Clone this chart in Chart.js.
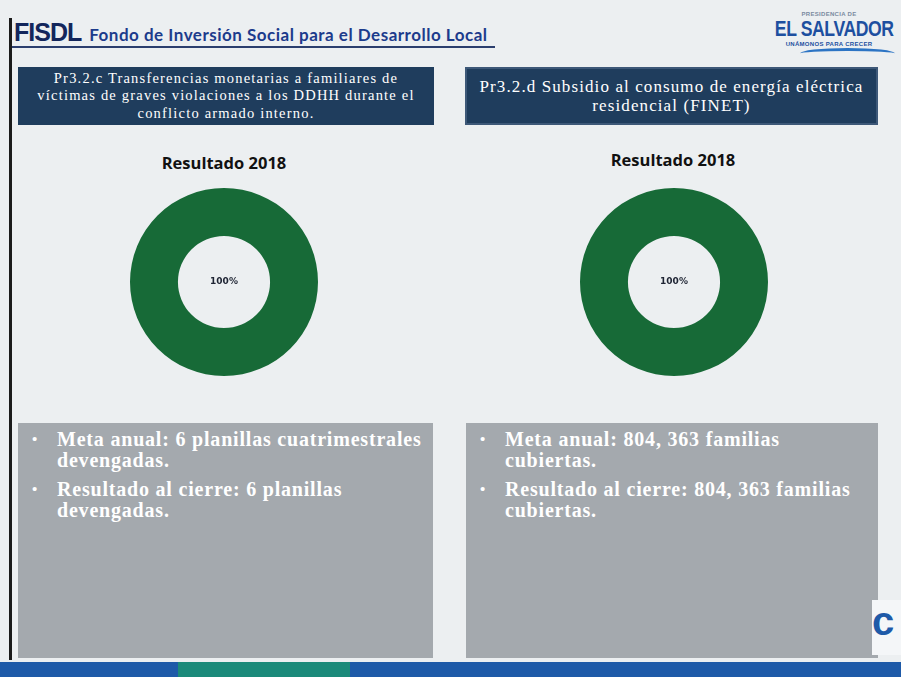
<!DOCTYPE html>
<html>
<head>
<meta charset="utf-8">
<script src="https://cdn.jsdelivr.net/npm/chart.js@4.4.0/dist/chart.umd.min.js"></script>
<style>
  html, body { margin: 0; padding: 0; }
  body { width: 901px; height: 677px; position: relative; overflow: hidden; background: #eceff1; font-family: "Liberation Serif", serif; }
  .abs { position: absolute; }
  #frame { left: 9px; top: 18px; width: 3px; height: 642px; background: #1b1b1b; }
  #brand { left: 14px; top: 18px; white-space: nowrap; color: #1b2f6b; }
  #brand b { font-family: "Liberation Sans", sans-serif; font-size: 25px; font-weight: bold; letter-spacing: -1px; color: #13265c; }
  #brand span { font-family: "Lato", sans-serif; font-size: 17px; font-weight: bold; margin-left: 8px; letter-spacing: 0.5px; color: #1c3b8c; }
  #rule { left: 12px; top: 46px; width: 483px; height: 2px; background: #2b3e6e; }
  #logo { left: 760px; top: 10px; width: 138px; text-align: center; color: #1d4fa0; font-family: "Liberation Sans", sans-serif; white-space: nowrap; }
  #logo .big { display: inline-block; font-size: 22px; font-weight: bold; letter-spacing: -0.5px; line-height: 22px; transform: scaleX(0.8); }
  #logo .small { font-size: 6px; font-weight: bold; letter-spacing: 0.3px; line-height: 8px; }
  #wave { left: 800px; top: 48px; width: 95px; height: 8px; border-top: 3px solid #2c74c4; border-radius: 50% 50% 0 0; }
  .title { background: #1f3d5d; color: #ffffff; text-align: center; box-sizing: border-box; display: flex; align-items: center; justify-content: center; white-space: nowrap; }
  #t1 { left: 18px; top: 67px; width: 416px; height: 58px; font-size: 14.5px; letter-spacing: 1.2px; line-height: 17.5px; }
  #t2 { left: 465px; top: 67px; width: 413px; height: 58px; font-size: 17px; letter-spacing: 1.1px; line-height: 19px; border: 2px solid #3d5878; }
  .sub { font-family: "Open Sans", sans-serif; font-weight: bold; font-size: 16.5px; color: #111; text-align: center; width: 250px; }
  #s1 { left: 99px; top: 151px; }
  #s2 { left: 548px; top: 148px; }
  .chart { width: 188px; height: 188px; }
  #c1 { left: 130px; top: 188px; }
  #c2 { left: 580px; top: 188px; }
  .box { background: #a4a9ae; color: #ffffff; font-weight: bold; font-size: 20px; letter-spacing: 0.8px; line-height: 21px; box-sizing: border-box; padding: 6px 0 0 39px; white-space: nowrap; }
  #b1 { left: 18px; top: 423px; width: 415px; height: 235px; }
  #b2 { left: 466px; top: 423px; width: 412px; height: 235px; }
  .box ul { margin: 0; padding: 0; list-style: none; }
  .box li { position: relative; margin-bottom: 8px; }
  .box li:before { content: "\2022"; position: absolute; left: -25px; top: 0; font-size: 15px; }
  #footer1 { left: 0; top: 662px; width: 901px; height: 15px; background: #1e5aa8; }
  #footer2 { left: 178px; top: 662px; width: 172px; height: 15px; background: #1b8a7a; }
  #corner { left: 872px; top: 600px; width: 29px; height: 55px; color: #1e5aa8; font-family: "Liberation Sans", sans-serif; font-weight: bold; font-size: 40px; line-height: 42px; background: #f4f6f8; overflow: hidden; }
</style>
</head>
<body>
<div class="abs" id="frame"></div>
<div class="abs" id="brand"><b>FISDL</b><span>Fondo de Inversión Social para el Desarrollo Local</span></div>
<div class="abs" id="rule"></div>
<div class="abs" id="logo"><div class="small" style="color:#7a8aa0">PRESIDENCIA DE</div><div class="big">EL SALVADOR</div><div class="small">UNÁMONOS PARA CRECER</div></div>
<div class="abs" id="wave"></div>

<div class="abs title" id="t1"><div>Pr3.2.c Transferencias monetarias a familiares de<br>víctimas de graves violaciones a los DDHH durante el<br>conflicto armado interno.</div></div>
<div class="abs title" id="t2"><div>Pr3.2.d Subsidio al consumo de energía eléctrica<br>residencial (FINET)</div></div>

<div class="abs sub" id="s1">Resultado 2018</div>
<div class="abs sub" id="s2">Resultado 2018</div>

<div class="abs chart" id="c1"><canvas id="chart1"></canvas></div>
<div class="abs chart" id="c2"><canvas id="chart2"></canvas></div>

<div class="abs box" id="b1"><ul>
  <li>Meta anual: 6 planillas cuatrimestrales<br>devengadas.</li>
  <li>Resultado al cierre: 6 planillas<br>devengadas.</li>
</ul></div>
<div class="abs box" id="b2"><ul>
  <li>Meta anual: 804, 363 familias<br>cubiertas.</li>
  <li>Resultado al cierre: 804, 363 familias<br>cubiertas.</li>
</ul></div>

<div class="abs" id="corner">c</div>
<div class="abs" id="footer1"></div>
<div class="abs" id="footer2"></div>

<script>
// data
const sliceLabels = ['Cumplido', 'Pendiente'];
const transferValues = [100, 0];   // Pr3.2.c
const energyValues = [100, 0];     // Pr3.2.d
const sliceColors = ['#176a37', '#d9dde0'];

// draws the percentage of the first slice in the hole
const centerLabel = {
  id: 'centerLabel',
  afterDraw(chart) {
    const meta = chart.getDatasetMeta(0);
    if (!meta.data.length) return;
    const arc = meta.data[0];
    const values = chart.data.datasets[0].data;
    const total = values.reduce((a, b) => a + b, 0);
    const pct = Math.round(values[0] / total * 100) + '%';
    const ctx = chart.ctx;
    ctx.save();
    ctx.font = 'bold 9px "DejaVu Sans", sans-serif';
    ctx.fillStyle = '#1e2433';
    ctx.textAlign = 'center';
    ctx.textBaseline = 'middle';
    ctx.fillText(pct, arc.x, arc.y);
    ctx.restore();
  }
};

function makeDoughnut(id, values) {
  const ctx = document.getElementById(id).getContext('2d');
  return new Chart(ctx, {
    type: 'doughnut',
    data: {
      labels: sliceLabels,
      datasets: [{
        data: values,
        backgroundColor: sliceColors,
        borderWidth: 0
      }]
    },
    options: {
      responsive: true,
      maintainAspectRatio: false,
      animation: false,
      cutout: '49%',
      layout: { padding: 0 },
      plugins: {
        legend: { display: false },
        tooltip: { enabled: false }
      }
    },
    plugins: [centerLabel]
  });
}

makeDoughnut('chart1', transferValues);
makeDoughnut('chart2', energyValues);
</script>
</body>
</html>
